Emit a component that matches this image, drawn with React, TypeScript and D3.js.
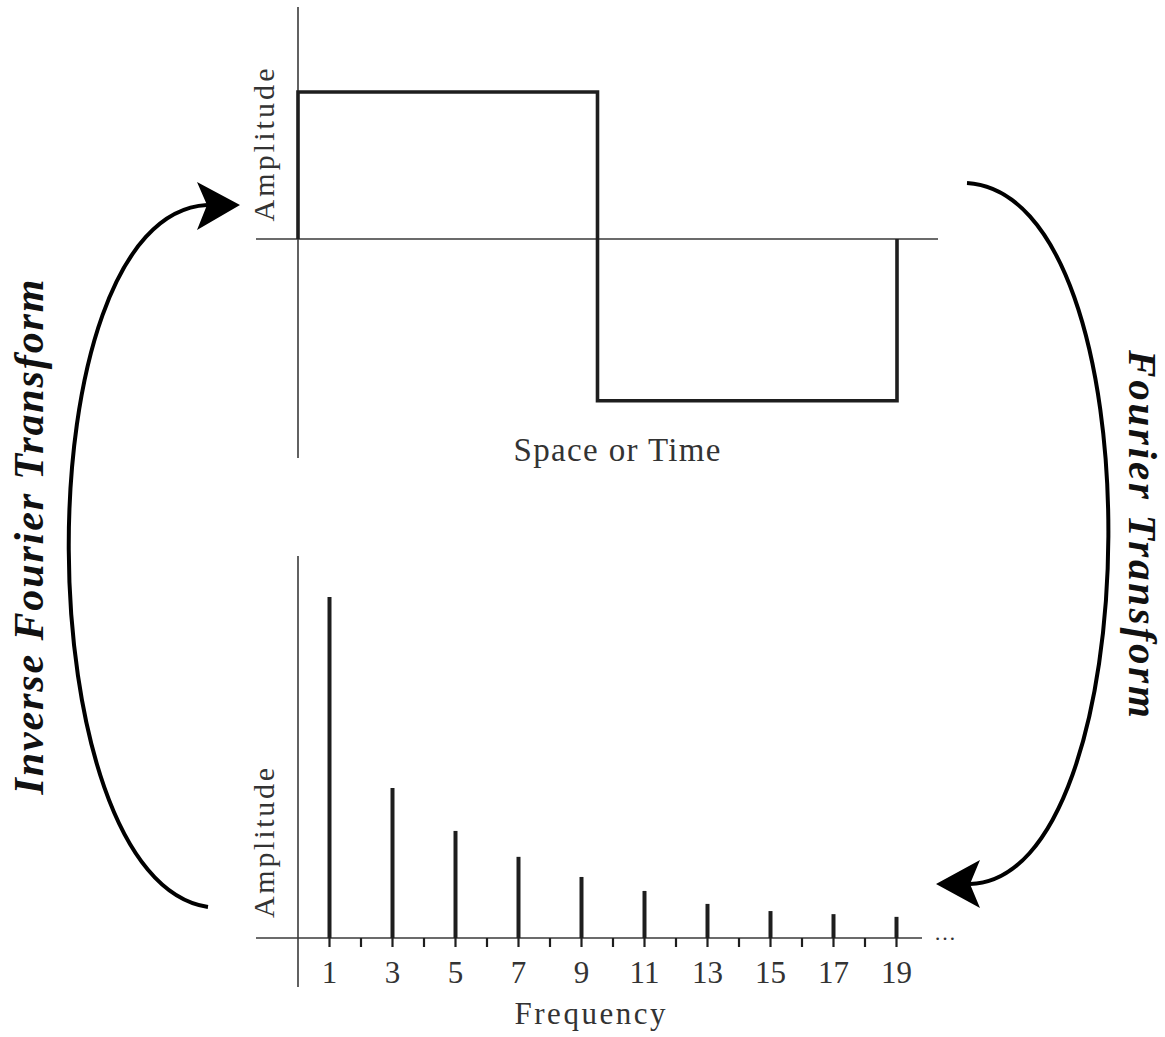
import React from "react";
import * as d3 from "d3";

// ---- data ----
const timeBreaks = [0, 1, 2]; // square wave segment boundaries (space/time units)
const waveLevels = [1.0, -1.1]; // amplitude of each half period
const frequencies = [1, 3, 5, 7, 9, 11, 13, 15, 17, 19];
const amplitudes = [1.0, 0.44, 0.314, 0.238, 0.179, 0.138, 0.1, 0.079, 0.07, 0.062];
const tickValues = d3.range(1, 20);
const tickLabels = frequencies.map(String);

const FONT = "'Liberation Serif', 'DejaVu Serif', serif";
const W = 1165;
const H = 1037;

export default function App() {
  // top chart scales
  const xT = d3.scaleLinear().domain([0, 2]).range([298, 897]);
  const yT = d3.scaleLinear().domain([0, 1]).range([239, 92]);

  const wavePts: [number, number][] = [
    [timeBreaks[0], 0],
    [timeBreaks[0], waveLevels[0]],
    [timeBreaks[1], waveLevels[0]],
    [timeBreaks[1], waveLevels[1]],
    [timeBreaks[2], waveLevels[1]],
    [timeBreaks[2], 0],
  ];
  const waveLine = d3
    .line<[number, number]>()
    .x((d) => xT(d[0]))
    .y((d) => yT(d[1]));

  // bottom chart scales
  const xF = d3.scaleLinear().domain([0, 20]).range([298, 928]);
  const yF = d3.scaleLinear().domain([0, 1]).range([938, 597]);

  // arrows
  const leftCurve = d3.path();
  leftCurve.moveTo(208, 907);
  leftCurve.bezierCurveTo(25, 880, 20, 215, 207, 205);
  const rightCurve = d3.path();
  rightCurve.moveTo(967, 183);
  rightCurve.bezierCurveTo(1160, 195, 1150, 880, 970, 884);

  const leftHead = "M240,205 L197,182 L207,205 L197,230 Z";
  const rightHead = "M936,884 L980,860 L970,884 L980,908 Z";

  const axisColor = "#3a3a3a";
  const ink = "#1e1e1e";

  return (
    <svg width={W} height={H} style={{ position: "absolute", left: 0, top: 0, background: "#fff" }}>
      <rect x={0} y={0} width={W} height={H} fill="#fff" />
      {/* ---- top chart ---- */}
      <line x1={xT(0)} x2={xT(0)} y1={7} y2={458} stroke={axisColor} strokeWidth={1.6} />
      <line x1={256} x2={938} y1={yT(0)} y2={yT(0)} stroke={axisColor} strokeWidth={1.6} />
      <path d={waveLine(wavePts) || ""} fill="none" stroke={ink} strokeWidth={3.6} strokeLinejoin="miter" />
      <text
        transform={`translate(274,145) rotate(-90)`}
        textAnchor="middle"
        fontFamily={FONT}
        fontSize={30}
        fill="#333"
        textLength={153}
        lengthAdjust="spacing"
      >
        Amplitude
      </text>
      <text x={617} y={461} textAnchor="middle" fontFamily={FONT} fontSize={33} fill="#333" textLength={207} lengthAdjust="spacing">
        Space or Time
      </text>

      {/* ---- bottom chart ---- */}
      <line x1={xF(0)} x2={xF(0)} y1={556} y2={987} stroke={axisColor} strokeWidth={1.6} />
      <line x1={256} x2={922} y1={yF(0)} y2={yF(0)} stroke={axisColor} strokeWidth={1.6} />
      {tickValues.map((t) => (
        <line key={"t" + t} x1={xF(t)} x2={xF(t)} y1={yF(0)} y2={yF(0) + 9} stroke={ink} strokeWidth={2.2} />
      ))}
      {frequencies.map((f, i) => (
        <line
          key={"b" + f}
          x1={xF(f)}
          x2={xF(f)}
          y1={yF(0)}
          y2={yF(amplitudes[i])}
          stroke={ink}
          strokeWidth={4}
        />
      ))}
      {frequencies.map((f, i) => (
        <text key={"l" + f} x={xF(f)} y={983} textAnchor="middle" fontFamily={FONT} fontSize={31} fill="#333">
          {tickLabels[i]}
        </text>
      ))}
      <text x={945} y={940} textAnchor="middle" fontFamily={FONT} fontSize={22} fill="#333">
        …
      </text>
      <text
        transform={`translate(274,843) rotate(-90)`}
        textAnchor="middle"
        fontFamily={FONT}
        fontSize={30}
        fill="#333"
        textLength={150}
        lengthAdjust="spacing"
      >
        Amplitude
      </text>
      <text x={590} y={1024} textAnchor="middle" fontFamily={FONT} fontSize={31} fill="#333" textLength={151} lengthAdjust="spacing">
        Frequency
      </text>

      {/* ---- arrows ---- */}
      <path d={leftCurve.toString()} fill="none" stroke="#000" strokeWidth={4} />
      <path d={leftHead} fill="#000" />
      <path d={rightCurve.toString()} fill="none" stroke="#000" strokeWidth={4} />
      <path d={rightHead} fill="#000" />

      {/* ---- titles ---- */}
      <text
        transform={`translate(43,537) rotate(-90)`}
        textAnchor="middle"
        fontFamily={FONT}
        fontSize={42}
        fontWeight="bold"
        fontStyle="italic"
        fill="#111"
        textLength={515}
        lengthAdjust="spacing"
      >
        Inverse Fourier Transform
      </text>
      <text
        transform={`translate(1129,534) rotate(90)`}
        textAnchor="middle"
        fontFamily={FONT}
        fontSize={41}
        fontWeight="bold"
        fontStyle="italic"
        fill="#111"
        textLength={368}
        lengthAdjust="spacing"
      >
        Fourier Transform
      </text>
    </svg>
  );
}
